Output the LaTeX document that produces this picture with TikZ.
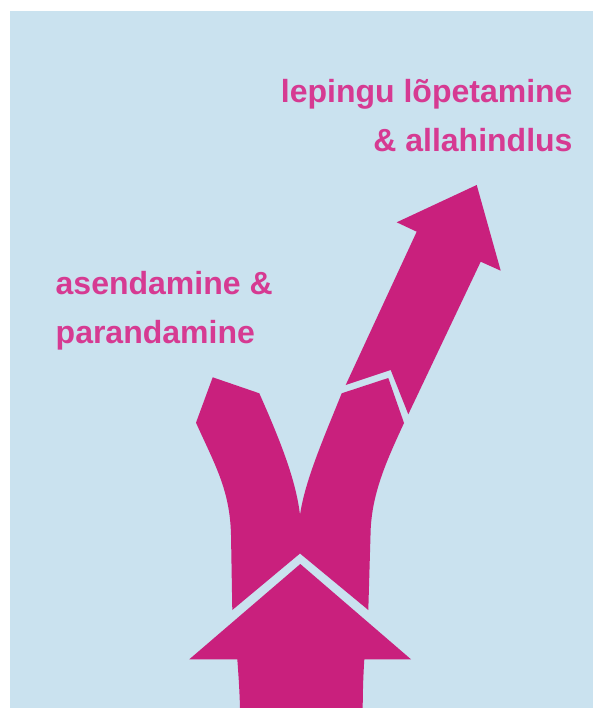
\documentclass[tikz,border=0pt]{standalone}
\usepackage{fontspec}
\setmainfont{Liberation Sans}
\definecolor{bgblue}{RGB}{202,226,239}
\definecolor{arrowmag}{RGB}{201,32,125}
\definecolor{textmag}{RGB}{214,58,146}
\tikzset{
  shapefill/.style={fill=arrowmag},
  label text/.style={inner sep=0pt, text=textmag, font=\fontsize{32}{49}\selectfont\bfseries}
}
\begin{document}
\begin{tikzpicture}[x=1pt,y=-1pt]
\useasboundingbox (0,0) rectangle (593,708);
\fill[white] (0,0) rectangle (593,708);
\fill[bgblue] (10,11) rectangle (593,708);

% bottom up-arrow
\fill[shapefill] (237.3,659.3) -- (189.3,659.3) -- (300.3,564) -- (411,659.3) -- (364.3,659.3)
  .. controls (363.3,675) and (362.8,690) .. (362.7,708) -- (240,708)
  .. controls (239.5,690) and (238.5,675) .. (237.3,659.3) -- cycle;

% forked Y shape
\fill[shapefill] (232.3,610) -- (300,553.5) -- (368.3,610) -- (370.5,535)
  .. controls (371,495) and (386,462) .. (404,423)
  -- (388.3,378) -- (341.7,393.3)
  .. controls (325,435) and (305,480) .. (300,515)
  .. controls (296,480) and (280,440) .. (259.3,393.3)
  -- (212.7,377.3) -- (196,422.7)
  .. controls (215,465) and (230,490) .. (231,535) -- cycle;

% upper right arrow
\fill[shapefill] (345.7,385) -- (390.7,370) -- (408.3,414.3) -- (480.7,261.7) -- (500.7,270.7)
  -- (476.7,185) -- (396.7,222.3) -- (416.7,231.7) -- cycle;

% labels
\node[label text, anchor=base east] (l1a) at (572.7,102.3) {lepingu lõpetamine};
\node[label text, anchor=base east] (l1b) at (572.7,151.7) {\& allahindlus};
\node[label text, anchor=base west] (l2a) at (55.5,294.3) {asendamine \&};
\node[label text, anchor=base west] (l2b) at (55.5,343.3) {parandamine};
\end{tikzpicture}
\end{document}
